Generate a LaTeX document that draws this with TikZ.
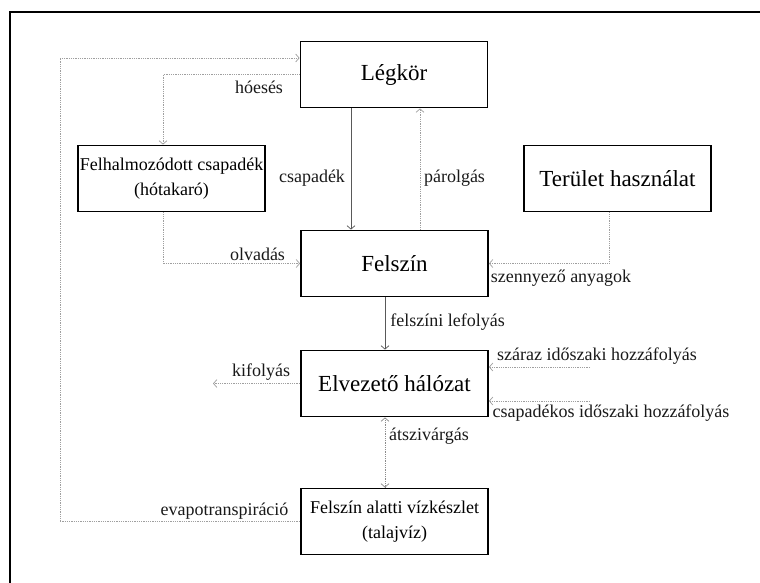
\documentclass[tikz,border=0pt]{standalone}
\usepackage{fontspec}
\setmainfont{Liberation Serif}
\usetikzlibrary{arrows.meta}
\begin{document}
\begin{tikzpicture}[x=1pt,y=-1pt,
 box/.style={draw=black,line width=1.8pt,minimum width=187pt,minimum height=66pt,inner sep=0pt,align=center},
 big/.style={font=\fontsize{23}{27}\selectfont},
 small/.style={font=\fontsize{18}{25}\selectfont},
 lbl/.style={inner sep=0pt,text=black!90,font=\fontsize{18}{22}\selectfont},
 tip/.tip={Straight Barb[length=3.5pt,width=8pt,line width=0.7pt]},
 dotline/.style={draw=gray!75,line width=0.9pt,dash pattern=on 0.9pt off 0.9pt,-tip},
 solidarr/.style={draw=black!65,line width=0.8pt,-tip}]
\useasboundingbox (0,0) rectangle (760,582);
\draw[line width=2pt] (10,583) -- (10,12) -- (761,12);

% boxes
\node[box,big]   (leg) at (394,74.5)    {Légkör};
\node[box,small] (felh) at (171.5,178.5) {Felhalmozódott csapadék\\(hótakaró)};
\node[box,big]   (ter) at (617.5,178.5) {Terület használat};
\node[box,big]   (fsz) at (394.5,263.5) {Felszín};
\node[box,big]   (elv) at (394.5,383.5) {Elvezető hálózat};
\node[box,small] (fav) at (394.5,521.5) {Felszín alatti vízkészlet\\(talajvíz)};

% helper coordinates
\coordinate (hx) at (163,0);
\coordinate (ev) at (60,58);
\coordinate (tr) at (609,0);
\coordinate (cs) at (351,0);
\coordinate (pa) at (420,0);
\coordinate (lf) at (385,0);
\coordinate (kf) at (213,383.5);
\coordinate (sz) at (590,367);
\coordinate (cp) at (590,401);

% connectors
\draw[dotline] (leg.west) -| (hx |- felh.north);
\draw[dotline] (fav.west) -| (ev) -- (leg.west |- ev);
\draw[dotline] (felh.south -| hx) |- (fsz.west);
\draw[dotline] (ter.south -| tr) |- (fsz.east);
\draw[solidarr] (leg.south -| cs) -- (fsz.north -| cs);
\draw[dotline] (fsz.north -| pa) -- (leg.south -| pa);
\draw[solidarr] (fsz.south -| lf) -- (elv.north -| lf);
\draw[dotline] (elv.west) -- (kf);
\draw[dotline] (sz) -- (elv.east |- sz);
\draw[dotline] (cp) -- (elv.east |- cp);
\draw[dotline,draw=gray!90,tip-tip] (elv.south -| lf) -- (fav.north -| lf);

% labels
\node[lbl] (l1) at (259,87) {hóesés};
\node[lbl] (l2) at (312,178) {csapadék};
\node[lbl] (l3) at (454.5,178) {párolgás};
\node[lbl] (l4) at (257.5,254) {olvadás};
\node[lbl] (l5) at (561,278) {szennyező anyagok};
\node[lbl] (l6) at (447.5,322) {felszíni lefolyás};
\node[lbl] (l7) at (261,372) {kifolyás};
\node[lbl] (l8) at (597,356) {száraz időszaki hozzáfolyás};
\node[lbl] (l9) at (611,413) {csapadékos időszaki hozzáfolyás};
\node[lbl] (l10) at (429,436) {átszivárgás};
\node[lbl] (l11) at (224.5,511) {evapotranspiráció};
\end{tikzpicture}
\end{document}
